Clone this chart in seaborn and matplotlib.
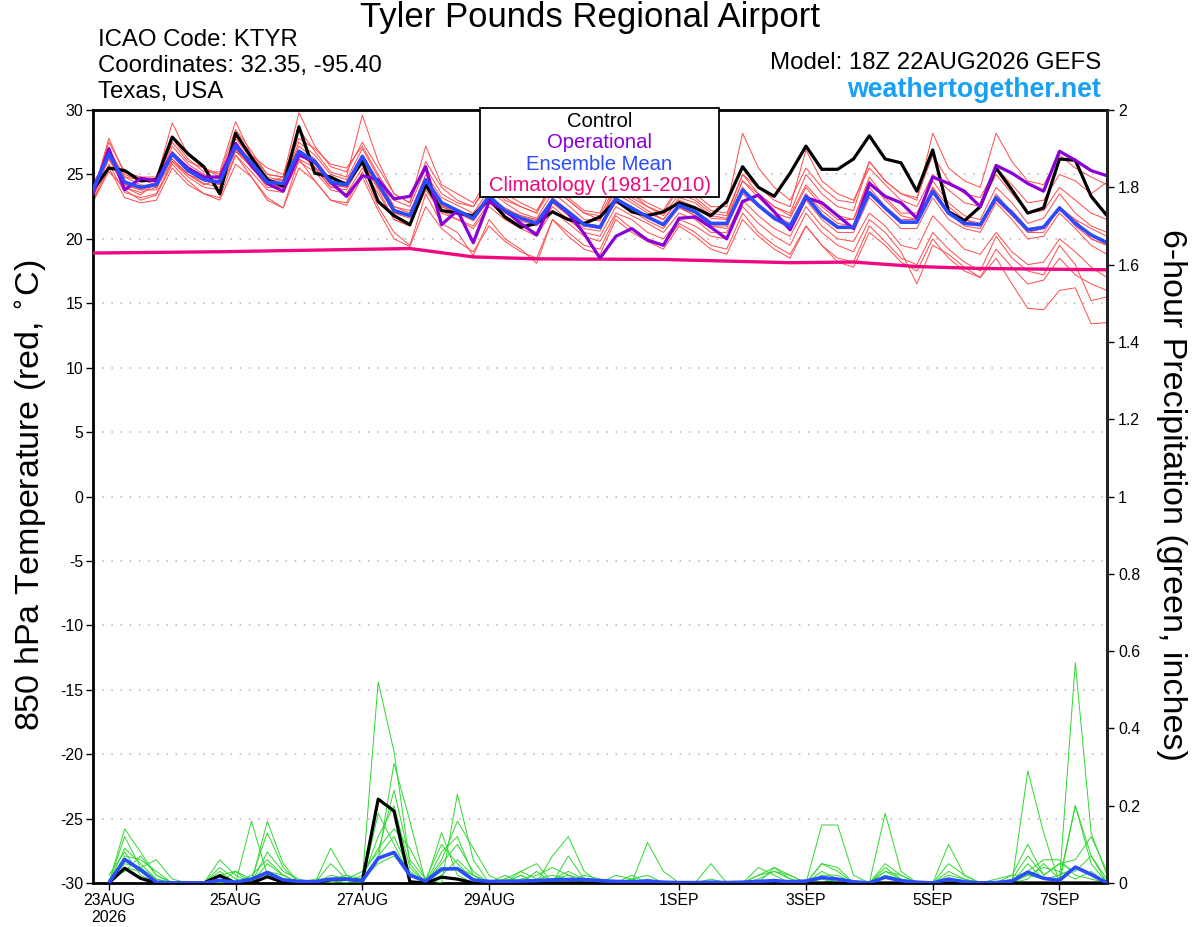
import numpy as np
import pandas as pd
import matplotlib
matplotlib.use("Agg")
import matplotlib.pyplot as plt
import seaborn as sns
from matplotlib.patches import Rectangle
from matplotlib.ticker import FuncFormatter, FixedLocator

sns.set_style("white")
plt.rcParams['font.family'] = ['Liberation Sans', 'DejaVu Sans']
plt.rcParams['axes.unicode_minus'] = False
for key in ['text.color', 'axes.labelcolor', 'xtick.color', 'ytick.color']:
    plt.rcParams[key] = 'black'

# time axis: 6-hourly steps, step 0 = 00Z 23AUG2026 (analysis 18Z 22AUG = step -1)
temp_steps = list(range(-1, 64))
precip_steps = list(range(0, 64))
tick_steps = [0, 8, 16, 24, 36, 44, 52, 60]
tick_labels = ["23AUG\n2026", "25AUG", "27AUG", "29AUG", "1SEP", "3SEP", "5SEP", "7SEP"]

# 850 hPa temperature (C), steps -1..63
control_t = [23.8, 25.5, 25.3, 24.5, 24.6, 27.9, 26.6, 25.6, 23.5, 28.2, 26.3, 24.6, 24.1, 28.7, 25.1, 24.8, 24.2,
             26.0, 22.9, 21.8, 21.1, 24.2, 22.2, 22.0, 21.8, 23.1, 21.7, 20.9, 21.2, 22.1, 21.5, 21.2, 21.7,
             23.0, 22.1, 21.8, 22.1, 22.8, 22.4, 21.8, 22.9, 25.6, 24.0, 23.3, 25.1, 27.2, 25.4, 25.4, 26.2,
             28.0, 26.2, 25.9, 23.7, 26.9, 22.1, 21.4, 22.5, 25.5, 23.8, 22.0, 22.4, 26.2, 26.1, 23.3, 21.8]
oper_t = [23.5, 27.0, 23.8, 24.7, 24.5, 26.6, 25.5, 24.8, 24.8, 27.4, 25.7, 24.3, 23.7, 26.5, 26.0, 24.4, 23.3,
          24.9, 24.6, 23.1, 23.3, 25.6, 21.1, 22.2, 19.7, 22.9, 22.2, 21.2, 20.3, 23.0, 22.0, 20.4, 18.5,
          20.2, 20.8, 19.9, 19.5, 21.6, 21.7, 20.9, 20.0, 22.9, 23.4, 22.1, 20.7, 23.2, 22.8, 21.8, 20.8,
          24.3, 23.3, 22.8, 21.6, 24.8, 24.3, 23.7, 22.5, 25.7, 25.1, 24.3, 23.7, 26.8, 26.1, 25.3, 24.9]
mean_t = [23.8, 26.6, 24.4, 24.0, 24.2, 26.6, 25.3, 24.6, 24.4, 27.2, 25.9, 24.4, 24.3, 26.8, 26.0, 24.4, 24.2,
          26.4, 24.3, 22.2, 21.8, 24.6, 22.8, 22.2, 21.6, 23.3, 22.2, 21.6, 21.2, 23.0, 22.1, 21.1, 20.9,
          23.1, 22.4, 21.7, 21.1, 22.6, 22.1, 21.2, 21.2, 23.8, 22.6, 21.6, 21.0, 23.3, 21.8, 20.9, 20.9,
          23.6, 22.4, 21.3, 21.3, 23.7, 22.0, 21.2, 21.1, 23.2, 22.0, 20.7, 20.9, 22.4, 21.2, 20.3, 19.7]

clim_steps = [-1, 7, 19, 23, 27, 35, 43, 47, 51, 55, 63]
clim_t = [18.9, 19.0, 19.25, 18.6, 18.45, 18.4, 18.15, 18.2, 17.85, 17.7, 17.6]

# ensemble members, temperature
mem_t = {
    "m1": [23.5, 27.8, 25.0, 24.5, 24.6, 29.0, 26.5, 25.5, 25.0, 28.5, 26.8, 25.0, 24.8, 29.8, 27.2, 25.6, 25.2,
           27.5, 25.5, 23.5, 22.8, 26.0, 24.0, 23.0, 22.5, 24.5, 23.2, 22.5, 22.0, 24.5, 23.2, 22.2, 22.0,
           24.8, 23.5, 22.8, 22.2, 24.2, 23.5, 22.5, 22.5, 28.2, 25.5, 24.0, 23.0, 25.5, 24.0, 23.0, 22.8,
           26.0, 24.5, 23.5, 23.2, 26.5, 24.5, 23.5, 23.2, 25.5, 24.2, 22.8, 23.0, 25.0, 24.5, 23.5, 24.4],
    "m2": [23.0, 25.8, 23.6, 23.2, 23.5, 26.0, 24.8, 24.0, 23.8, 26.5, 25.2, 23.8, 23.6, 26.0, 25.2, 23.8, 23.5,
           25.5, 23.5, 21.5, 21.0, 23.8, 22.0, 21.5, 20.8, 22.5, 21.5, 20.8, 20.2, 22.2, 21.2, 20.2, 19.8,
           22.0, 21.5, 20.5, 20.0, 21.5, 21.0, 20.2, 20.0, 22.5, 21.2, 20.2, 19.5, 22.0, 20.5, 19.5, 19.0,
           21.5, 20.5, 19.0, 16.5, 19.5, 18.8, 17.8, 17.0, 18.5, 16.5, 14.6, 14.5, 16.0, 16.2, 13.4, 13.5],
    "m3": [24.0, 27.0, 24.8, 24.2, 24.0, 27.2, 25.8, 25.0, 24.6, 27.8, 26.2, 24.8, 24.5, 27.5, 26.5, 25.0, 24.6,
           27.0, 24.8, 22.5, 22.0, 25.0, 23.2, 22.6, 22.0, 23.8, 22.8, 22.0, 21.6, 23.6, 22.6, 21.5, 21.4,
           23.8, 23.0, 22.2, 21.5, 23.2, 22.8, 21.8, 21.6, 24.5, 23.2, 22.0, 21.6, 24.0, 22.5, 21.5, 21.5,
           24.8, 23.2, 22.0, 22.0, 24.5, 22.8, 21.8, 21.5, 24.0, 22.8, 21.2, 21.6, 23.5, 22.0, 21.0, 20.5],
    "m4": [23.2, 26.2, 24.0, 23.6, 24.0, 26.0, 25.0, 24.3, 24.0, 26.8, 25.6, 24.0, 24.0, 26.5, 25.8, 24.3, 24.0,
           26.0, 24.0, 22.0, 21.6, 24.2, 22.5, 22.0, 21.4, 23.0, 22.0, 21.6, 21.2, 23.2, 22.2, 21.2, 21.0,
           23.5, 22.8, 22.0, 21.5, 23.0, 22.5, 21.6, 21.5, 24.5, 23.5, 22.5, 22.0, 25.0, 23.5, 22.5, 22.2,
           26.0, 24.5, 23.5, 23.0, 28.2, 25.5, 24.5, 24.0, 28.2, 26.0, 24.5, 24.2, 26.5, 25.5, 24.8, 24.2],
    "m5": [24.2, 26.5, 23.8, 23.0, 23.4, 25.8, 24.5, 23.5, 23.2, 26.5, 24.8, 23.2, 22.4, 26.2, 24.5, 23.0, 22.8,
           25.2, 22.5, 20.5, 19.5, 23.5, 21.2, 20.5, 18.7, 21.5, 20.0, 19.2, 18.1, 21.5, 20.5, 19.5, 19.2,
           21.8, 20.8, 20.0, 19.5, 21.2, 20.5, 19.5, 19.2, 22.0, 20.5, 19.5, 18.8, 21.0, 19.5, 18.5, 18.2,
           21.0, 19.8, 18.5, 18.0, 20.5, 19.2, 18.2, 17.5, 20.2, 18.5, 17.5, 17.2, 19.5, 18.0, 15.2, 15.5],
    "m6": [23.6, 27.5, 25.2, 24.8, 24.8, 27.8, 26.2, 25.2, 25.2, 29.1, 26.5, 25.0, 24.8, 28.5, 26.8, 25.2, 24.8,
           29.6, 26.0, 23.5, 22.8, 27.2, 24.2, 23.5, 22.8, 24.8, 23.5, 22.8, 22.2, 24.2, 23.0, 22.0, 21.8,
           24.2, 23.5, 22.5, 22.0, 24.0, 23.2, 22.2, 22.0, 25.0, 23.5, 22.5, 21.8, 24.2, 22.8, 21.8, 21.5,
           24.5, 23.0, 21.8, 21.5, 24.0, 22.5, 21.5, 21.0, 23.5, 22.0, 20.5, 20.8, 22.5, 21.5, 20.0, 19.5],
    "m7": [23.8, 26.8, 24.5, 24.0, 24.4, 26.8, 25.5, 24.8, 24.8, 27.5, 26.0, 24.5, 24.6, 27.2, 26.2, 24.6, 24.4,
           26.5, 24.2, 22.0, 21.8, 24.5, 22.8, 22.2, 21.8, 23.5, 22.2, 21.8, 21.5, 23.0, 22.0, 21.0, 20.8,
           23.0, 22.4, 21.8, 21.0, 22.5, 22.0, 21.0, 21.0, 23.5, 22.5, 21.5, 20.8, 23.0, 21.5, 20.5, 20.5,
           23.2, 22.0, 20.8, 20.8, 23.2, 21.5, 20.8, 20.5, 22.8, 21.5, 20.0, 20.2, 22.0, 20.8, 19.5, 18.8],
    "m8": [24.4, 26.2, 24.2, 23.8, 24.2, 26.2, 25.0, 24.5, 24.2, 27.0, 25.5, 24.2, 24.0, 26.8, 25.5, 24.0, 23.8,
           26.0, 23.8, 21.5, 21.0, 24.0, 22.2, 21.5, 21.0, 22.8, 21.8, 21.0, 20.5, 22.5, 21.5, 20.5, 20.2,
           22.5, 21.8, 21.2, 20.5, 22.0, 21.5, 20.5, 20.5, 23.0, 21.8, 20.8, 20.2, 22.5, 21.0, 20.0, 19.8,
           22.0, 21.0, 19.5, 19.2, 21.8, 20.5, 19.2, 18.8, 20.5, 19.0, 18.0, 18.2, 20.0, 19.0, 17.8, 17.0],
    "m9": [23.4, 26.8, 24.8, 24.6, 24.2, 27.5, 26.0, 25.5, 24.8, 28.0, 26.5, 25.5, 25.0, 27.8, 27.0, 25.8, 25.5,
           27.2, 25.0, 23.0, 22.5, 25.5, 23.5, 22.8, 22.5, 24.2, 23.0, 22.5, 22.0, 24.0, 23.0, 22.0, 21.5,
           24.0, 23.2, 22.5, 21.8, 23.5, 23.0, 22.0, 21.8, 25.0, 24.0, 23.0, 22.5, 26.9, 24.5, 23.5, 23.0,
           25.5, 24.2, 23.0, 22.5, 25.0, 23.8, 22.8, 22.5, 25.0, 23.5, 22.0, 22.2, 24.0, 23.0, 22.0, 21.5],
    "m10": [22.8, 25.5, 23.2, 22.8, 23.0, 25.5, 24.2, 23.5, 23.0, 25.8, 24.8, 23.0, 22.4, 25.5, 24.5, 23.0, 22.6,
            24.8, 22.2, 20.0, 19.4, 22.5, 20.8, 19.8, 19.0, 21.0, 19.8, 19.0, 18.5, 21.5, 20.2, 19.2, 18.8,
            21.5, 20.5, 19.8, 19.2, 21.0, 20.2, 19.2, 18.8, 21.5, 20.2, 19.2, 18.5, 21.0, 19.5, 18.2, 17.8,
            20.5, 19.5, 18.2, 17.5, 20.0, 18.5, 17.5, 17.0, 19.2, 17.8, 16.5, 16.8, 18.5, 17.2, 16.5, 16.0],
    "m11": [23.0, 25.2, 24.0, 23.4, 24.4, 26.2, 25.0, 24.2, 24.6, 26.8, 25.8, 24.4, 24.8, 26.2, 25.5, 24.0, 24.2,
            26.2, 24.5, 22.5, 22.2, 24.0, 22.5, 22.0, 21.6, 23.2, 22.4, 21.8, 21.4, 22.8, 22.0, 21.2, 21.0,
            22.8, 22.2, 21.6, 21.2, 22.4, 21.8, 21.2, 21.2, 23.8, 22.5, 21.8, 21.2, 23.5, 22.2, 21.2, 21.0,
            23.5, 22.5, 21.5, 21.5, 23.5, 22.2, 21.5, 21.2, 23.0, 22.2, 20.8, 21.0, 22.2, 21.5, 20.8, 20.2],
    "m12": [23.6, 26.4, 24.2, 23.8, 23.8, 26.6, 25.2, 24.6, 24.2, 27.0, 25.8, 24.4, 24.0, 26.6, 25.6, 24.2, 24.0,
            26.2, 24.0, 22.2, 21.8, 24.5, 22.6, 22.0, 21.5, 23.2, 22.0, 21.4, 21.0, 22.8, 21.8, 20.8, 20.6,
            23.2, 22.2, 21.4, 20.8, 22.5, 21.8, 21.0, 20.8, 24.0, 22.5, 21.5, 21.0, 23.5, 21.8, 20.8, 20.8,
            24.0, 22.5, 21.2, 21.2, 24.0, 22.0, 21.0, 20.8, 23.0, 21.8, 20.5, 20.5, 22.5, 21.0, 20.0, 19.5],
}

# 6-hour precipitation (inches), steps 0..63
control_p = [0, 0.038, 0.012, 0, 0, 0, 0, 0.019, 0, 0, 0.016, 0.002, 0, 0, 0.008, 0.01,
             0.005, 0.217, 0.186, 0.003, 0, 0.015, 0.01, 0, 0, 0, 0, 0, 0, 0, 0, 0,
             0, 0, 0, 0, 0, 0, 0, 0, 0, 0, 0, 0, 0, 0, 0, 0,
             0, 0, 0, 0, 0, 0, 0, 0, 0, 0, 0, 0, 0, 0, 0, 0]
mean_p = [0, 0.061, 0.034, 0.002, 0, 0, 0, 0.007, 0.002, 0.01, 0.027, 0.008, 0.004, 0.003, 0.01, 0.01,
          0.006, 0.064, 0.079, 0.02, 0.005, 0.036, 0.037, 0.008, 0.004, 0.004, 0.005, 0.006, 0.008, 0.009, 0.009, 0.006,
          0.004, 0.003, 0.005, 0.002, 0.001, 0.001, 0.002, 0.001, 0.002, 0.004, 0.006, 0.003, 0.005, 0.014, 0.01, 0.003,
          0, 0.015, 0.006, 0.002, 0, 0.01, 0.003, 0, 0.001, 0.005, 0.028, 0.012, 0.007, 0.041, 0.022, 0]

mem_p = {
    "g1": [0, 0.14, 0.08, 0.02, 0, 0, 0, 0, 0, 0, 0.16, 0.05, 0, 0, 0.02, 0.01,
           0.01, 0.52, 0.34, 0.05, 0, 0.02, 0.06, 0.02, 0, 0, 0.03, 0.05, 0, 0.07, 0.01, 0,
           0, 0, 0.01, 0, 0, 0, 0, 0, 0, 0, 0, 0, 0, 0.05, 0.04, 0,
           0, 0.18, 0.03, 0, 0, 0, 0, 0, 0, 0, 0.02, 0.01, 0.005, 0.57, 0.13, 0.02],
    "g2": [0, 0.09, 0.05, 0.01, 0, 0, 0, 0, 0, 0.16, 0.02, 0, 0, 0, 0, 0,
           0, 0.06, 0.31, 0.16, 0, 0.13, 0.02, 0, 0, 0.02, 0, 0, 0.07, 0.12, 0.03, 0,
           0, 0, 0.105, 0.03, 0, 0, 0.05, 0, 0, 0, 0.04, 0.01, 0, 0.15, 0.15, 0.02,
           0, 0.04, 0.01, 0, 0, 0.1, 0.02, 0, 0, 0, 0.29, 0.13, 0, 0.2, 0.07, 0],
    "g3": [0, 0.07, 0.06, 0.03, 0, 0, 0, 0, 0.03, 0.01, 0.13, 0.04, 0, 0.01, 0.01, 0,
           0.02, 0.09, 0.14, 0.09, 0.01, 0, 0.23, 0.06, 0, 0, 0, 0.03, 0, 0, 0.02, 0.01,
           0, 0.02, 0, 0, 0, 0, 0, 0, 0, 0.04, 0.02, 0, 0, 0.05, 0.03, 0,
           0, 0.05, 0.02, 0, 0, 0.03, 0.01, 0, 0, 0.02, 0.1, 0.02, 0.05, 0.06, 0.12, 0.03],
    "g4": [0, 0.05, 0.04, 0.06, 0.01, 0, 0, 0, 0, 0.02, 0.06, 0.02, 0, 0, 0.09, 0.02,
           0, 0.07, 0.12, 0.03, 0, 0.06, 0.16, 0.09, 0.02, 0, 0.02, 0, 0.01, 0.03, 0.01, 0,
           0, 0.01, 0.02, 0, 0, 0, 0.01, 0, 0, 0.02, 0.03, 0.01, 0, 0.03, 0.01, 0,
           0, 0.03, 0.01, 0, 0, 0.02, 0.01, 0, 0, 0.01, 0.07, 0.02, 0.05, 0.03, 0.07, 0.01],
    "g5": [0.01, 0.03, 0.07, 0.02, 0, 0, 0, 0.02, 0.03, 0, 0.02, 0.01, 0, 0, 0.05, 0.01,
           0.01, 0.12, 0.2, 0.04, 0, 0.05, 0.1, 0.03, 0, 0.01, 0.03, 0.01, 0.02, 0.01, 0, 0,
           0.02, 0.01, 0, 0, 0, 0, 0, 0, 0, 0.02, 0.04, 0.02, 0, 0, 0.01, 0,
           0, 0, 0, 0, 0, 0.01, 0, 0, 0, 0, 0.03, 0.06, 0.06, 0.02, 0.01, 0],
    "g6": [0, 0.12, 0.04, 0.01, 0, 0, 0, 0.06, 0.02, 0, 0.08, 0.03, 0.01, 0, 0.01, 0.01,
           0.03, 0.08, 0.24, 0.06, 0.01, 0.1, 0.05, 0.01, 0, 0, 0.01, 0.02, 0.04, 0.02, 0, 0,
           0, 0.01, 0, 0, 0, 0, 0, 0, 0, 0.01, 0.03, 0.02, 0, 0.02, 0.02, 0,
           0, 0.03, 0.02, 0, 0, 0.05, 0.02, 0, 0, 0, 0.05, 0.01, 0.02, 0.04, 0.02, 0],
    "g7": [0, 0.04, 0.03, 0, 0, 0, 0, 0.04, 0.01, 0, 0.03, 0.02, 0, 0, 0.01, 0.02,
           0.01, 0.05, 0.07, 0.02, 0, 0.03, 0.04, 0.02, 0, 0.01, 0, 0.01, 0.01, 0.02, 0.01, 0,
           0, 0, 0, 0, 0, 0, 0, 0, 0, 0, 0.01, 0, 0, 0.01, 0, 0,
           0, 0.02, 0.01, 0, 0, 0.01, 0, 0, 0.01, 0.02, 0.02, 0.04, 0.03, 0.01, 0.03, 0],
    "g8": [0.02, 0.08, 0.02, 0, 0, 0, 0, 0.03, 0, 0, 0.05, 0.02, 0, 0, 0, 0.01,
           0, 0.18, 0.1, 0.02, 0, 0.08, 0.12, 0.02, 0, 0, 0.02, 0, 0, 0, 0, 0,
           0, 0, 0, 0, 0, 0, 0, 0, 0, 0, 0, 0, 0, 0, 0, 0,
           0, 0, 0, 0, 0, 0, 0, 0, 0, 0, 0.01, 0.05, 0.01, 0.2, 0.05, 0],
}

RED = "#ff4a4a"
GREEN = "#2fd82f"
BLUE = "#2a4bff"
PURPLE = "#8a00d6"
MAGENTA = "#f0087e"

red_df = pd.DataFrame([(k, s, v) for k, vals in mem_t.items() for s, v in zip(temp_steps, vals)],
                      columns=["member", "step", "temp"])
green_df = pd.DataFrame([(k, s, v) for k, vals in mem_p.items() for s, v in zip(precip_steps, vals)],
                        columns=["member", "step", "precip"])

fig = plt.figure(figsize=(12, 9.27), dpi=100)
ax = fig.add_axes([0.0775, 0.0475, 0.845, 0.8338])
ax2 = ax.twinx()

# temperature
for yv in range(-25, 30, 5):
    ax.axhline(yv, color="#b4b4b4", lw=1.1, ls=(0, (1, 5)), zorder=0)
sns.lineplot(data=red_df, x="step", y="temp", units="member", estimator=None,
             color=RED, lw=0.7, ax=ax, zorder=2)
sns.lineplot(x=clim_steps, y=clim_t, color=MAGENTA, lw=2.4, ax=ax, zorder=3)
sns.lineplot(x=temp_steps, y=control_t, color="black", lw=2.3, ax=ax, zorder=4)
sns.lineplot(x=temp_steps, y=oper_t, color=PURPLE, lw=2.3, ax=ax, zorder=5)
sns.lineplot(x=temp_steps, y=mean_t, color=BLUE, lw=2.6, ax=ax, zorder=6)

# precipitation
sns.lineplot(data=green_df, x="step", y="precip", units="member", estimator=None,
             color=GREEN, lw=0.7, ax=ax2, zorder=2)
sns.lineplot(x=precip_steps, y=control_p, color="black", lw=2.3, ax=ax2, zorder=4)
sns.lineplot(x=precip_steps, y=mean_p, color=BLUE, lw=2.6, ax=ax2, zorder=5)

ax.set_xlim(-1, 63)
ax.set_ylim(-30, 30)
ax2.set_ylim(0, 2)
ax.set_xlabel("")
ax.set_ylabel("")
ax2.set_xlabel("")
ax2.set_ylabel("")

ax.set_yticks(range(-30, 31, 5))
ax.xaxis.set_major_locator(FixedLocator(tick_steps))
ax.set_xticklabels(tick_labels, fontsize=11.4)
ax.tick_params(axis="y", labelsize=11.4, direction="out", length=5, width=1, left=True, pad=2)
ax.tick_params(axis="x", direction="out", length=5, width=1, bottom=True, pad=2)
ax2.set_yticks(np.arange(0, 2.01, 0.2))
ax2.yaxis.set_major_formatter(FuncFormatter(lambda v, p: f"{v:g}"))
ax2.tick_params(axis="y", labelsize=11.4, direction="out", length=5, width=1, right=True, pad=3)

for sp in ax.spines.values():
    sp.set_linewidth(2.0)
    sp.set_color("black")
for name in ["top", "left", "bottom"]:
    ax2.spines[name].set_visible(False)
ax2.spines["right"].set_linewidth(2.0)

# legend box
lx0, lx1 = (480 - 93) / 1014, (719 - 93) / 1014
ly0, ly1 = (883 - 197) / 773, (883 - 108) / 773
ax2.add_patch(Rectangle((lx0, ly0), lx1 - lx0, ly1 - ly0, transform=ax.transAxes,
                        facecolor="white", edgecolor="black", lw=1.3, zorder=10, clip_on=False))
legend_items = [("Control", "black"), ("Operational", PURPLE),
                ("Ensemble Mean", BLUE), ("Climatology (1981-2010)", MAGENTA)]
for i, (txt, col) in enumerate(legend_items):
    ax2.text((lx0 + lx1) / 2, (883 - (121 + 21.5 * i)) / 773, txt, color=col, fontsize=14.6,
             ha="center", va="center", transform=ax.transAxes, zorder=11)

# header text
fig.text(0.4917, 1 - 18 / 927, "Tyler Pounds Regional Airport", fontsize=25, ha="center", va="center")
fig.text(98 / 1200, 1 - 40 / 927, "ICAO Code: KTYR", fontsize=17.3, ha="left", va="center")
fig.text(98 / 1200, 1 - 66 / 927, "Coordinates: 32.35, -95.40", fontsize=17.3, ha="left", va="center")
fig.text(98 / 1200, 1 - 92 / 927, "Texas, USA", fontsize=17.3, ha="left", va="center")
fig.text(1101 / 1200, 1 - 63 / 927, "Model: 18Z 22AUG2026 GEFS", fontsize=17.3, ha="right", va="center")
fig.text(1101 / 1200, 1 - 90 / 927, "weathertogether.net", fontsize=19.3, ha="right", va="center",
         color="#18a0f5", fontweight="bold")
fig.text(32 / 1200, 1 - 495 / 927, "850 hPa Temperature (red, $^{\\circ}$C)", fontsize=24.5,
         rotation=90, ha="center", va="center")
fig.text(1172 / 1200, 1 - 495 / 927, "6-hour Precipitation (green, inches)", fontsize=24.5,
         rotation=-90, ha="center", va="center")

fig.savefig("out.png", dpi=100)
